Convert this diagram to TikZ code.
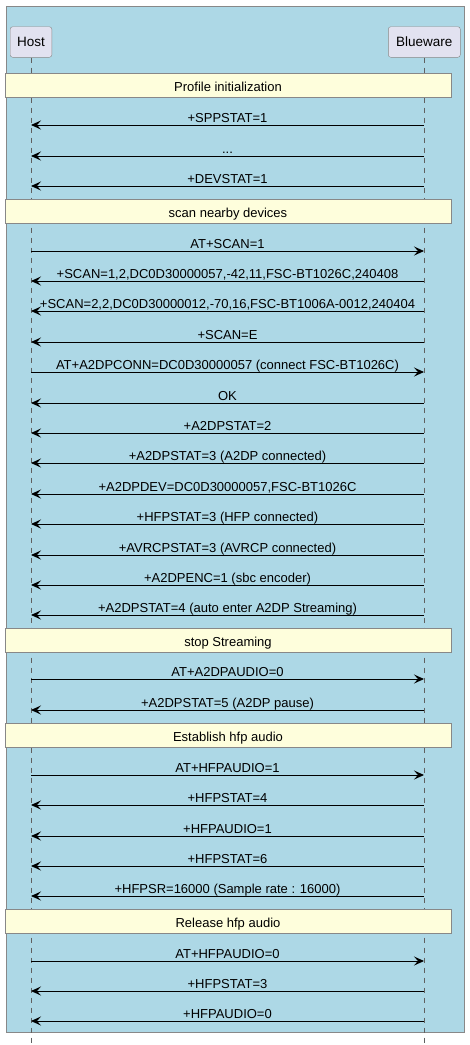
\documentclass[tikz,border=0pt]{standalone}
\usepackage{fontspec}
\setmainfont{Liberation Sans}
\usetikzlibrary{arrows.meta}
\definecolor{boxblue}{HTML}{ADD8E6}
\definecolor{partfill}{HTML}{E2E2F0}
\definecolor{divfill}{HTML}{FEFEDC}
\definecolor{edgegray}{HTML}{888888}
\definecolor{lifegray}{HTML}{606060}

\begin{document}
\begin{tikzpicture}[x=1pt, y=-1pt, font=\fontsize{13}{15}\selectfont]
    \tikzset{part/.style={draw=edgegray, fill=partfill, rounded corners=2.5pt,
                          minimum height=30.6pt, inner sep=0pt, font=\fontsize{13.5}{16}\selectfont},
             divbox/.style={draw=edgegray, fill=divfill, minimum width=445.4pt,
                            minimum height=24pt, inner sep=0pt, text height=13.4pt, text depth=0pt},
             life/.style={draw=lifegray, line width=0.6pt, dash pattern=on 5pt off 5pt},
             msg/.style={draw=black, line width=0.9pt, -{Stealth[length=10pt, width=9pt, inset=4pt]}},
             lbl/.style={anchor=base, inner sep=0pt}}
    \useasboundingbox (0,0) rectangle (469,1045);
    % box round the participants
    \filldraw[fill=boxblue, draw=edgegray, line width=0.8pt] (6,6) rectangle (464,1032);
    % participants and lifelines
    \node[part, minimum width=41.6pt] (host) at (31,42) {Host};
    \node[part, minimum width=72pt] (blue) at (424.3,42) {Blueware};
    \coordinate (hostend) at (31,1045);
    \coordinate (blueend) at (424,1045);
    \draw[life] (host.south) -- (hostend);
    \draw[life] (blue.south -| blueend) -- (blueend);
    % dividers
    \foreach \y/\txt [count=\i] in {85/Profile initialization, 211/scan nearby devices,
        640/stop Streaming, 735/Establish hfp audio, 921/Release hfp audio} {
      \node[divbox] (div\i) at (228,\y) {\txt};
    }
    % messages
    \foreach \y/\from/\to/\txt [count=\i] in {
        125/b/h/{+SPPSTAT=1}, 156/b/h/{...}, 186/b/h/{+DEVSTAT=1},
        251/h/b/{AT+SCAN=1},
        281/b/h/{+SCAN=1,2,DC0D30000057,-42,11,FSC-BT1026C,240408},
        311/b/h/{+SCAN=2,2,DC0D30000012,-70,16,FSC-BT1006A-0012,240404},
        342/b/h/{+SCAN=E},
        372/h/b/{AT+A2DPCONN=DC0D30000057 (connect FSC-BT1026C)},
        403/b/h/{OK}, 433/b/h/{+A2DPSTAT=2}, 463/b/h/{+A2DPSTAT=3 (A2DP connected)},
        494/b/h/{+A2DPDEV=DC0D30000057,FSC-BT1026C},
        524/b/h/{+HFPSTAT=3 (HFP connected)}, 555/b/h/{+AVRCPSTAT=3 (AVRCP connected)},
        585/b/h/{+A2DPENC=1 (sbc encoder)}, 615/b/h/{+A2DPSTAT=4 (auto enter A2DP Streaming)},
        679/h/b/{AT+A2DPAUDIO=0}, 710/b/h/{+A2DPSTAT=5 (A2DP pause)},
        775/h/b/{AT+HFPAUDIO=1}, 805/b/h/{+HFPSTAT=4}, 836/b/h/{+HFPAUDIO=1},
        866/b/h/{+HFPSTAT=6}, 896/b/h/{+HFPSR=16000 (Sample rate : 16000)},
        961/h/b/{AT+HFPAUDIO=0}, 991/b/h/{+HFPSTAT=3}, 1021/b/h/{+HFPAUDIO=0}} {
      \coordinate (h\i) at (31,\y);
      \coordinate (b\i) at (424,\y);
      \node[lbl] (t\i) at (227.5,\y-3) {\txt};
      \draw[msg] (\from\i) -- (\to\i);
    }
  \end{tikzpicture}
\end{document}
